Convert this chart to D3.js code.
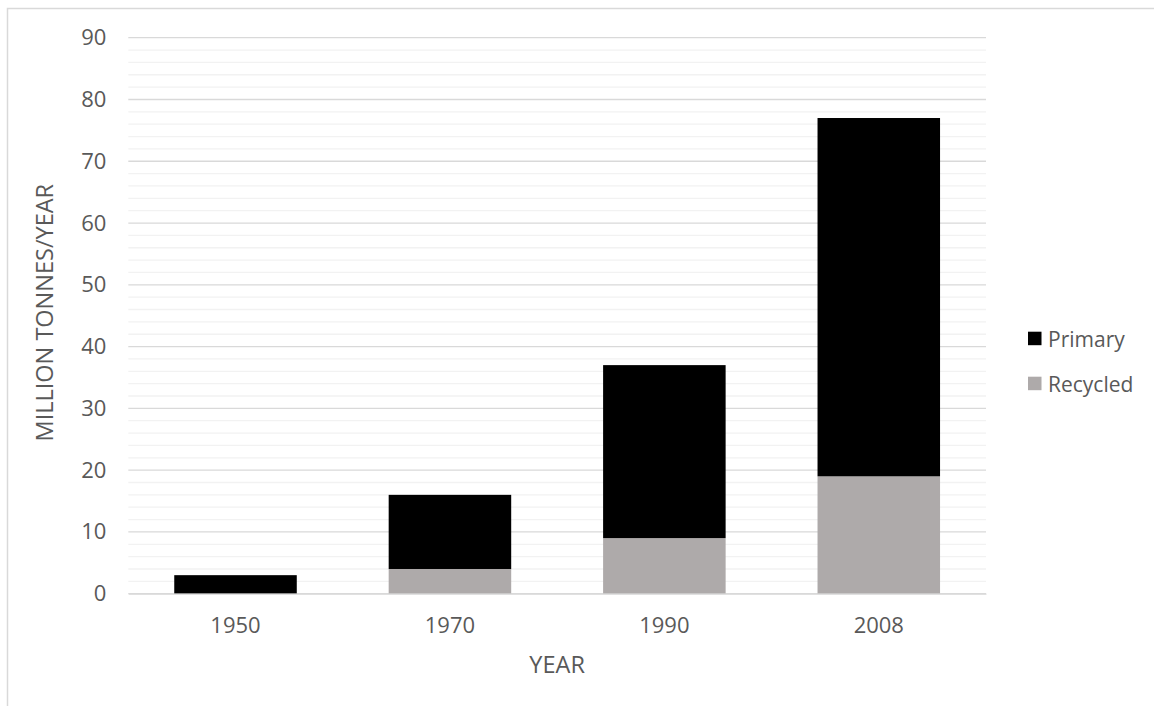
<!DOCTYPE html>
<html>
<head>
<meta charset="utf-8">
<script src="https://cdn.jsdelivr.net/npm/d3@7"></script>
<style>
  html, body { margin: 0; padding: 0; background: #fff; }
  svg { display: block; }
  text { font-family: "Open Sans", "Noto Sans", sans-serif; fill: #595959; }
</style>
</head>
<body>
<svg id="chart" width="1154" height="706"></svg>
<script>
const years = ["1950", "1970", "1990", "2008"];
const recycled = [0, 4, 9, 19];
const primary = [3, 12, 28, 58];
const seriesNames = ["Primary", "Recycled"];
const seriesColors = ["#000000", "#AEAAAA"];
const yTicks = [0, 10, 20, 30, 40, 50, 60, 70, 80, 90];
const yMinorTicks = d3.range(0, 91, 2);
const xTitle = "YEAR";
const yTitle = "MILLION TONNES/YEAR";

const svg = d3.select("#chart");
const W = 1154, H = 706;

// chart border
svg.append("rect")
  .attr("x", 7.5).attr("y", 8.5)
  .attr("width", W + 10).attr("height", H + 10)
  .attr("fill", "none").attr("stroke", "#D9D9D9").attr("stroke-width", 1.5);

const plot = { left: 128.3, right: 986, top: 37.7, bottom: 593.7 };

const x = d3.scaleBand().domain(years)
  .range([plot.left, plot.right])
  .paddingInner(0.4286).paddingOuter(0.2143);
const y = d3.scaleLinear().domain([0, 90]).range([plot.bottom, plot.top]);

// minor gridlines
svg.append("g").selectAll("line")
  .data(yMinorTicks.filter(v => v % 10 !== 0))
  .join("line")
  .attr("x1", plot.left).attr("x2", plot.right)
  .attr("y1", d => y(d)).attr("y2", d => y(d))
  .attr("stroke", "#F2F2F2").attr("stroke-width", 1.3);

// major gridlines
svg.append("g").selectAll("line")
  .data(yTicks)
  .join("line")
  .attr("x1", plot.left).attr("x2", plot.right)
  .attr("y1", d => y(d)).attr("y2", d => y(d))
  .attr("stroke", "#D9D9D9").attr("stroke-width", 1.3);

// stacked bars
const rows = years.map((yr, i) => ({ year: yr, Recycled: recycled[i], Primary: primary[i] }));
const stack = d3.stack().keys(["Recycled", "Primary"])(rows);
const colorOf = { Primary: seriesColors[0], Recycled: seriesColors[1] };

svg.append("g").selectAll("g")
  .data(stack)
  .join("g")
  .attr("fill", d => colorOf[d.key])
  .selectAll("rect")
  .data(d => d.filter(s => s[1] - s[0] > 0))
  .join("rect")
  .attr("x", d => x(d.data.year))
  .attr("width", x.bandwidth())
  .attr("y", d => y(d[1]))
  .attr("height", d => y(d[0]) - y(d[1]));

// y axis labels
const yAxis = d3.axisLeft(y).tickValues(yTicks).tickSize(0).tickPadding(22);
const gy = svg.append("g").attr("transform", `translate(${plot.left},0)`).call(yAxis);
gy.select(".domain").remove();
gy.selectAll("text").style("font-size", "22px").attr("fill", "#595959")
  .style("font-family", "'Open Sans', sans-serif");

// x axis labels
const xAxis = d3.axisBottom(x).tickSize(0).tickPadding(24);
const gx = svg.append("g").attr("transform", `translate(0,${plot.bottom})`).call(xAxis);
gx.select(".domain").attr("stroke", "#D9D9D9").attr("stroke-width", 1.3);
gx.selectAll("text").style("font-size", "22px").attr("fill", "#595959")
  .style("font-family", "'Open Sans', sans-serif");

// axis titles
svg.append("text")
  .attr("x", (plot.left + plot.right) / 2).attr("y", 673)
  .attr("text-anchor", "middle")
  .style("font-size", "23.5px")
  .text(xTitle);

svg.append("text")
  .attr("transform", `translate(53,${(plot.top + plot.bottom) / 2 - 3}) rotate(-90)`)
  .attr("text-anchor", "middle")
  .style("font-size", "23.5px")
  .text(yTitle);

// legend
const legend = svg.append("g").attr("transform", "translate(1028,331.7)");
seriesNames.forEach((name, i) => {
  const g = legend.append("g").attr("transform", `translate(0,${i * 45})`);
  g.append("rect").attr("width", 13.5).attr("height", 13.5).attr("fill", seriesColors[i]);
  g.append("text").attr("x", 20).attr("y", 15)
    .style("font-size", "21px").text(name);
});
</script>
</body>
</html>
